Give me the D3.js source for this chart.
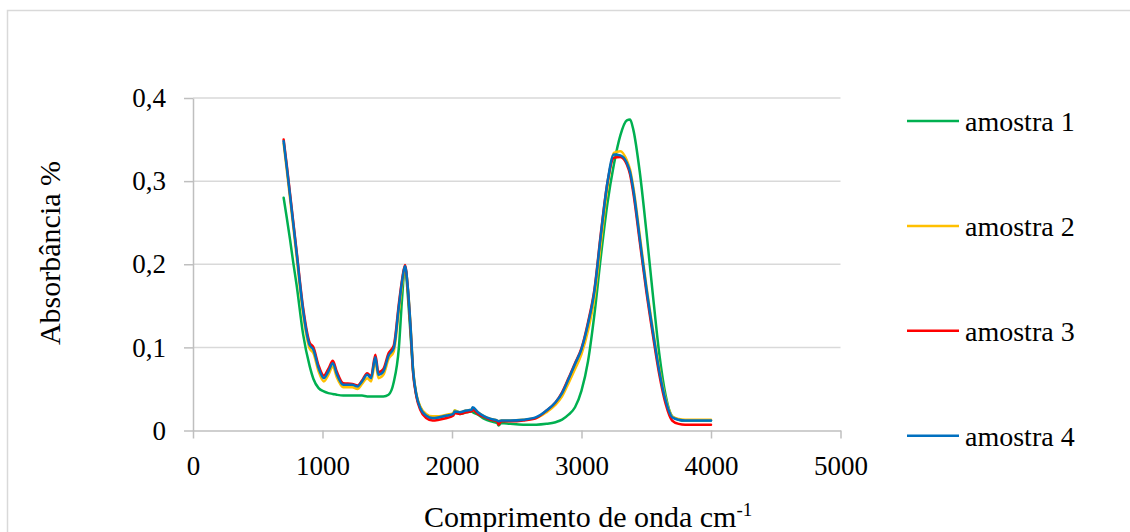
<!DOCTYPE html>
<html>
<head>
<meta charset="utf-8">
<script src="https://cdn.jsdelivr.net/npm/d3@7"></script>
<style>
  html, body { margin: 0; padding: 0; background: #fff; }
  svg { display: block; }
  text { font-family: "Liberation Serif", "Times New Roman", serif; fill: #000; }
</style>
</head>
<body>
<svg id="chart" width="1130" height="532"></svg>
<script>
// FTIR spectra: wavenumber (cm-1) and absorbance of four samples
const wavenumbers = [
  700, 725, 750, 775, 800, 850, 900, 930, 970, 1010,
  1045, 1080, 1110, 1160, 1230, 1270, 1305, 1345, 1375, 1408,
  1432, 1470, 1510, 1550, 1590, 1615, 1637, 1660, 1680, 1700,
  1725, 1755, 1800, 1850, 1900, 1960, 2010, 2020, 2060, 2110,
  2150, 2160, 2200, 2250, 2300, 2350, 2360, 2380, 2450, 2550,
  2650, 2730, 2800, 2850, 2900, 2950, 3000, 3050, 3100, 3150,
  3200, 3250, 3300, 3350, 3375, 3400, 3450, 3500, 3550, 3600,
  3650, 3700, 3750, 3800, 3850, 3900, 3950, 4000
];

const amostra1 = [
  .280, .255, .229, .201, .175, .116, .078, .062, .051, .047,
  .045, .044, .043, .042, .042, .042, .042, .041, .041, .041,
  .041, .041, .043, .058, .100, .160, .197, .160, .115, .070,
  .042, .028, .019, .015, .016, .018, .020, .024, .020, .022,
  .023, .022, .019, .014, .011, .009, .006, .009, .008, .007,
  .007, .008, .010, .013, .019, .028, .048, .083, .140, .210,
  .273, .320, .355, .373, .374, .362, .311, .241, .165, .093,
  .042, .017, .013, .012, .012, .012, .012, .012
];

const amostra2 = [
  .345, .312, .278, .244, .209, .140, .099, .093, .071, .059,
  .067, .077, .064, .052, .052, .050, .056, .063, .059, .083,
  .063, .067, .086, .095, .144, .176, .196, .170, .126, .073,
  .044, .029, .020, .017, .017, .019, .021, .024, .022, .024,
  .025, .027, .022, .017, .014, .012, .011, .012, .012, .013,
  .015, .022, .031, .041, .057, .074, .092, .120, .160, .226,
  .292, .334, .336, .325, .314, .293, .235, .175, .123, .075,
  .038, .017, .014, .013, .013, .013, .013, .013
];

const amostra3 = [
  .350, .318, .284, .250, .216, .148, .106, .100, .078, .066,
  .074, .084, .071, .057, .056, .054, .060, .069, .065, .091,
  .070, .074, .093, .102, .153, .182, .199, .168, .122, .069,
  .041, .025, .015, .012, .013, .015, .018, .021, .020, .022,
  .023, .025, .020, .016, .013, .011, .007, .011, .011, .012,
  .015, .024, .034, .046, .063, .081, .099, .130, .170, .238,
  .298, .328, .329, .320, .308, .286, .227, .168, .116, .068,
  .032, .012, .008, .007, .007, .007, .007, .007
];

const amostra4 = [
  .348, .316, .282, .248, .214, .145, .103, .097, .075, .063,
  .071, .081, .068, .055, .055, .053, .059, .067, .063, .088,
  .067, .071, .090, .099, .150, .180, .198, .170, .125, .072,
  .043, .027, .018, .015, .016, .018, .020, .023, .022, .024,
  .025, .028, .022, .017, .014, .012, .011, .012, .012, .013,
  .016, .024, .034, .045, .062, .080, .098, .128, .168, .236,
  .298, .332, .331, .322, .311, .290, .231, .172, .120, .072,
  .036, .016, .013, .012, .012, .012, .012, .012
];

const seriesNames = ["amostra 1", "amostra 2", "amostra 3", "amostra 4"];
const seriesColors = ["#00B050", "#FFC000", "#FF0000", "#0070C0"];
const xTicks = [0, 1000, 2000, 3000, 4000, 5000];
const yTicks = [0, 0.1, 0.2, 0.3, 0.4];

const seriesValues = [amostra1, amostra2, amostra3, amostra4];
const series = seriesNames.map((name, i) => ({
  name,
  color: seriesColors[i],
  points: wavenumbers.map((w, j) => [w, seriesValues[i][j]])
}));

const svg = d3.select("#chart");

// chart frame
svg.append("path")
  .attr("d", "M7.5,540V10.5H1140")
  .attr("fill", "none")
  .attr("stroke", "#d9d9d9")
  .attr("stroke-width", 1.5);

const x = d3.scaleLinear().domain([0, 5000]).range([193, 840.5]);
const y = d3.scaleLinear().domain([0, 0.4]).range([430.5, 98]);

const ptBR = d3.formatLocale({ decimal: ",", thousands: ".", grouping: [3], currency: ["R$", ""] });
const fmtY = d => d === 0 ? "0" : ptBR.format(".1f")(d);

// horizontal gridlines
svg.append("g")
  .selectAll("line")
  .data(yTicks.filter(d => d > 0))
  .join("line")
  .attr("x1", x(0)).attr("x2", x(5000))
  .attr("y1", d => y(d)).attr("y2", d => y(d))
  .attr("stroke", "#d9d9d9")
  .attr("stroke-width", 1.5);

// y axis
const yAxis = svg.append("g")
  .attr("transform", `translate(${x(0)},0)`)
  .call(d3.axisLeft(y).tickValues(yTicks).tickFormat(fmtY).tickSize(9).tickSizeOuter(0).tickPadding(18));
yAxis.select(".domain").attr("stroke", "#bfbfbf").attr("stroke-width", 1.5);
yAxis.selectAll(".tick line").attr("stroke", "#bfbfbf").attr("stroke-width", 1.5);
yAxis.selectAll(".tick text").style("font-size", "27px").style("font-family", "'Liberation Serif', serif");

// x axis
const xAxis = svg.append("g")
  .attr("transform", `translate(0,${y(0)})`)
  .call(d3.axisBottom(x).tickValues(xTicks).tickFormat(d3.format("d")).tickSize(8).tickSizeOuter(0).tickPadding(17));
xAxis.select(".domain").attr("stroke", "#bfbfbf").attr("stroke-width", 1.5);
xAxis.selectAll(".tick line").attr("stroke", "#bfbfbf").attr("stroke-width", 1.5);
xAxis.selectAll(".tick text").style("font-size", "27px").style("font-family", "'Liberation Serif', serif");

// spectra
const line = d3.line()
  .x(d => x(d[0]))
  .y(d => y(d[1]))
  .curve(d3.curveMonotoneX);

svg.append("g")
  .selectAll("path")
  .data(series)
  .join("path")
  .attr("d", d => line(d.points))
  .attr("fill", "none")
  .attr("stroke", d => d.color)
  .attr("stroke-width", 2.5)
  .attr("stroke-linejoin", "round")
  .attr("stroke-linecap", "round");

// axis titles
const xTitle = svg.append("text")
  .attr("x", 424)
  .attr("y", 527)
  .style("font-size", "30px");
xTitle.append("tspan").text("Comprimento de onda cm");
xTitle.append("tspan")
  .attr("dy", -11)
  .style("font-size", "19px")
  .text("-1");

svg.append("text")
  .attr("transform", "translate(60,253) rotate(-90)")
  .attr("text-anchor", "middle")
  .style("font-size", "30px")
  .text("Absorbância %");

// legend
const legend = svg.append("g")
  .selectAll("g")
  .data(series)
  .join("g")
  .attr("transform", (d, i) => `translate(907,${121 + i * 104.9})`);
legend.append("line")
  .attr("x1", 0).attr("x2", 52)
  .attr("stroke", d => d.color)
  .attr("stroke-width", 2.5);
legend.append("text")
  .attr("x", 58)
  .attr("y", 10)
  .style("font-size", "28px")
  .text(d => d.name);
</script>
</body>
</html>
